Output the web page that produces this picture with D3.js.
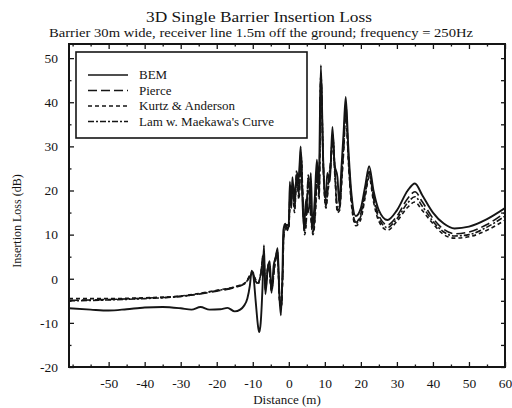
<!DOCTYPE html>
<html>
<head>
<meta charset="utf-8">
<script src="https://cdn.jsdelivr.net/npm/d3@7"></script>
<style>
  body { margin: 0; background: #fff; }
  svg text { font-family: "Liberation Serif", "Times New Roman", serif; fill: #141414; }
</style>
</head>
<body>
<div id="chart"></div>
<script>
// data
var bemX = [-61, -55, -50, -45, -40, -35, -30, -27, -24.5, -22, -19, -17, -15, -13.5, -12.5, -11.5, -10.8, -10.3, -9.8, -9.2, -8.5, -8.2, -7.8, -7.3, -6.9, -6.5, -5.9, -5.3, -4.8, -4.2, -3.6, -3.1, -2.6, -2.2, -1.8, -1.5, -1.0, -0.4, 0, 0.3, 0.7, 1.0, 1.5, 2.0, 2.5, 3.0, 3.3, 3.7, 4.2, 4.8, 5.3, 5.8, 6.1, 6.6, 7.2, 7.8, 8.3, 8.9, 9.5, 10.2, 10.7, 11.4, 12.1, 12.7, 13.5, 14.0, 14.6, 15.2, 15.8, 16.5, 17.3, 18.6, 20, 21.2, 22.3, 23.5, 25, 27.4, 30, 33, 35, 37, 40, 43, 46, 50, 55, 60];
var bemY = [-6.7, -7.0, -7.2, -6.9, -6.5, -6.4, -6.7, -7.0, -6.4, -7.0, -6.9, -6.6, -7.4, -7.0, -6.2, -4.5, -1.5, 1.8, 0.5, -5, -11, -12.1, -10, -2, 7.6, -3.5, 2, 4, -3.2, 3, 5, 6.9, -4, -8.3, 0, 11, 12.5, 11, 12.5, 22, 16, 23, 18, 22, 21, 26, 30, 20, 11.5, 18, 15, 18, 24, 11.5, 18, 27, 20, 48.4, 28, 18, 24, 22, 34.4, 26, 23, 17, 25, 33, 41.2, 30, 20, 14.2, 16, 21, 25.5, 20, 15.5, 13.3, 15.5, 20, 21.6, 19, 15, 12.5, 11.4, 11.8, 13.5, 16];

var dashX = [-61, -50, -40, -30, -20, -15, -12, -10, -9.3, -8.5, -7.8, -7.0, -6.5, -5.6, -4.8, -3.8, -3.2, -2.5, -2.1, -1.7, -1.4, -0.8, 0, 0.4, 1, 1.6, 2.2, 2.8, 3.4, 3.9, 4.4, 5.0, 5.4, 6.0, 6.7, 7.4, 7.9, 8.4, 8.9, 9.6, 10.3, 10.9, 11.6, 12.2, 12.8, 13.5, 14.1, 14.7, 15.3, 15.8, 16.5, 17.3, 18.6, 20, 21.2, 22.3, 23.5, 25, 27.4, 30, 33, 35, 37, 40, 43, 46, 50, 55, 60];
var pierceY = [-4.9, -4.7, -4.4, -4.0, -2.8, -2.0, -1.0, 1.2, -0.5, -1.0, 1.0, 6.0, -2.0, 3.5, -2.5, 4, 6, -5, -6.5, 1, 10, 12, 12, 20, 21, 16, 24, 19, 28, 18, 10.5, 16, 23, 16, 10.5, 16, 25, 19, 46, 25, 16.5, 21, 26, 32, 24, 15.5, 16, 23, 31, 39, 28, 18.5, 12.8, 14.8, 19.8, 24.3, 18.8, 14.3, 12.2, 14.2, 18.2, 19.7, 17.5, 13.7, 11.2, 10.2, 10.6, 12.3, 15];
var kurtzY = [-4.5, -4.5, -4.3, -3.9, -2.6, -1.8, -0.8, 1.5, 0, -0.8, 0.8, 5, -2.5, 3, -2.8, 3.5, 5.5, -5.5, -6, 0.5, 9.5, 11.5, 11.5, 19, 20, 15, 23, 18, 27, 17, 10, 15, 22, 15, 10, 15, 24, 18, 45, 24, 16, 20, 25, 31, 23, 15, 15.5, 22, 30, 38, 27, 17.5, 12, 13.5, 18.5, 23, 17.5, 13, 11, 13, 16.2, 17.4, 15.5, 12.5, 10, 9.2, 9.5, 11, 13.3];
var lamY = [-5.0, -4.8, -4.5, -4.0, -2.7, -1.9, -0.9, 1.3, -0.3, -1.2, 1.2, 5.5, -1.5, 3.2, -2.2, 4.2, 6.2, -4.5, -6.2, 1.2, 10.5, 12.2, 12.2, 20.5, 21.5, 16.5, 24.5, 19.5, 28.5, 18.5, 11, 16.5, 23.5, 16.5, 11, 16.5, 25.5, 19.5, 46.5, 25.5, 17, 21.5, 26.5, 32.5, 24.5, 16, 16.5, 23.5, 31.5, 39.5, 28.5, 19, 12.5, 14.2, 19.2, 23.8, 18.2, 13.7, 11.6, 13.6, 17.2, 18.6, 16.5, 13, 10.6, 9.7, 10, 11.7, 14.2];

var seriesNames = ["BEM", "Pierce", "Kurtz & Anderson", "Lam w. Maekawa's Curve"];
var seriesDash = ["none", "9,4", "4,3", "6,2,2,2"];

var xMajor = [-50, -40, -30, -20, -10, 0, 10, 20, 30, 40, 50, 60];
var xMinor = [-60, -55, -45, -35, -25, -15, -5, 5, 15, 25, 35, 45, 55];
var yMajor = [-20, -10, 0, 10, 20, 30, 40, 50];
var yMinor = [-15, -5, 5, 15, 25, 35, 45];

var W = 512, H = 408;
var plot = {left: 69, right: 505, top: 44, bottom: 367};
var ink = "#151515";
var serif = "Liberation Serif, Times New Roman, serif";

var x = d3.scaleLinear().domain([-61, 60]).range([plot.left, plot.right]);
var y = d3.scaleLinear().domain([-20, 53.2]).range([plot.bottom, plot.top]);

var svg = d3.select("#chart").append("svg")
    .attr("width", W)
    .attr("height", H);

svg.append("rect").attr("width", W).attr("height", H).attr("fill", "#fff");

// titles
svg.append("text")
    .attr("x", 259).attr("y", 22)
    .attr("text-anchor", "middle")
    .attr("font-size", 15.5)
    .attr("textLength", 226).attr("lengthAdjust", "spacingAndGlyphs")
    .text("3D Single Barrier Insertion Loss");

svg.append("text")
    .attr("x", 261).attr("y", 37)
    .attr("text-anchor", "middle")
    .attr("font-size", 11.5)
    .attr("textLength", 424).attr("lengthAdjust", "spacingAndGlyphs")
    .text("Barrier 30m wide, receiver line 1.5m off the ground; frequency = 250Hz");

// axes: ticks point inward, minor ticks shorter
function fmt(d) { return String(d); }

function addAxis(axisFn, scale, vals, size, transform, labels) {
  var g = svg.append("g")
      .attr("transform", transform)
      .call(axisFn(scale).tickValues(vals).tickSizeInner(size).tickSizeOuter(0)
        .tickPadding(labels ? -size + 6 : 0)
        .tickFormat(labels ? fmt : function () { return ""; }));
  g.select(".domain").remove();
  g.selectAll("line").attr("stroke", ink).attr("stroke-width", 1.3);
  g.selectAll("text").attr("font-size", 13.5).attr("fill", ink)
      .style("font-family", serif);
  return g;
}

addAxis(d3.axisBottom, x, xMajor, -5, "translate(0," + plot.bottom + ")", true);
addAxis(d3.axisBottom, x, xMinor, -2.5, "translate(0," + plot.bottom + ")", false);
addAxis(d3.axisTop, x, xMajor, -5, "translate(0," + plot.top + ")", false);
addAxis(d3.axisTop, x, xMinor, -2.5, "translate(0," + plot.top + ")", false);
addAxis(d3.axisLeft, y, yMajor, -5, "translate(" + plot.left + ",0)", true);
addAxis(d3.axisLeft, y, yMinor, -2.5, "translate(" + plot.left + ",0)", false);
addAxis(d3.axisRight, y, yMajor, -4, "translate(" + plot.right + ",0)", false);
addAxis(d3.axisRight, y, yMinor, -4, "translate(" + plot.right + ",0)", false);

// frame
svg.append("rect")
    .attr("x", plot.left).attr("y", plot.top)
    .attr("width", plot.right - plot.left).attr("height", plot.bottom - plot.top)
    .attr("fill", "none").attr("stroke", ink).attr("stroke-width", 2);

// axis titles
svg.append("text")
    .attr("x", 287).attr("y", 404)
    .attr("text-anchor", "middle")
    .attr("font-size", 13)
    .text("Distance (m)");

svg.append("text")
    .attr("transform", "translate(21,221) rotate(-90)")
    .attr("text-anchor", "middle")
    .attr("font-size", 12)
    .text("Insertion Loss (dB)");

// curves
var line = d3.line()
    .x(function (d) { return x(d[0]); })
    .y(function (d) { return y(d[1]); })
    .curve(d3.curveMonotoneX);

var curves = [
  d3.zip(bemX, bemY),
  d3.zip(dashX, pierceY),
  d3.zip(dashX, kurtzY),
  d3.zip(dashX, lamY)
];

svg.append("defs").append("clipPath").attr("id", "clip")
  .append("rect")
    .attr("x", plot.left).attr("y", plot.top)
    .attr("width", plot.right - plot.left).attr("height", plot.bottom - plot.top);

svg.append("g").attr("clip-path", "url(#clip)")
  .selectAll("path.curve")
  .data(curves)
  .enter().append("path")
    .attr("class", "curve")
    .attr("d", line)
    .attr("fill", "none")
    .attr("stroke", ink)
    .attr("stroke-width", function (d, i) { return i === 0 ? 1.9 : 1.6; })
    .attr("stroke-linejoin", "round")
    .attr("stroke-dasharray", function (d, i) { return seriesDash[i]; });

// legend
var legend = svg.append("g");
legend.append("rect")
    .attr("x", 76).attr("y", 52)
    .attr("width", 231).attr("height", 86)
    .attr("fill", "#fff").attr("stroke", ink).attr("stroke-width", 1.6);

var rows = legend.selectAll("g.row")
    .data(seriesNames)
    .enter().append("g")
    .attr("class", "row")
    .attr("transform", function (d, i) { return "translate(0," + (75 + i * 15.5) + ")"; });

rows.append("line")
    .attr("x1", 88).attr("x2", 128)
    .attr("stroke", ink).attr("stroke-width", 1.5)
    .attr("stroke-dasharray", function (d, i) { return seriesDash[i]; });

rows.append("text")
    .attr("x", 139).attr("y", 4)
    .attr("font-size", 13)
    .text(function (d) { return d; });
</script>
</body>
</html>
